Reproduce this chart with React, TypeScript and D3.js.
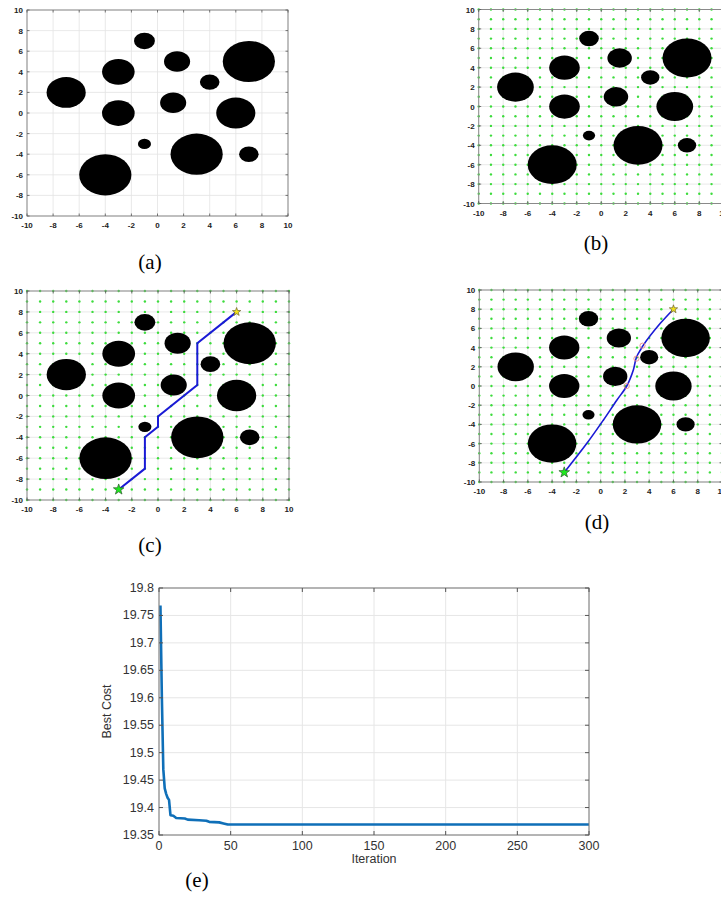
import * as d3 from 'd3';

// obstacle centres and radii (shared by panels a-d)
const obsX = [-1, 1.5, 7, -3, 4, -7, 1.2, -3, 6, -1, 3, 7, -4];
const obsY = [7, 5, 5, 4, 3, 2, 1, 0, 0, -3, -4, -4, -6];
const obsR = [0.8, 1, 2, 1.25, 0.75, 1.5, 1, 1.25, 1.5, 0.5, 2, 0.75, 2];

const mapTicks = [-10, -8, -6, -4, -2, 0, 2, 4, 6, 8, 10];
const gridNodes = d3.range(-10, 11);

const startPt = [-3, -9];
const goalPt = [6, 8];

// panel (c) grid path
const gridPathX = [-3, -1, -1, 0, 0, 3, 3, 6];
const gridPathY = [-9, -7, -4, -3, -2, 1, 5, 8];

// panel (d) smoothed path + waypoints
const smoothPathX = [-3, -1.15, 0.22, 1.33, 2.15, 2.7, 2.95, 3.3, 3.52, 4.9, 6];
const smoothPathY = [-9, -6.0, -3.56, -1.48, 0, 1.7, 3.0, 3.8, 4.26, 6.5, 8];
const wayX = [2.15, 2.95, 3.45];
const wayY = [0, 2.85, 4.2];

// panel (e) convergence
const iterations = [1, 2, 3, 4, 5, 6, 7, 8, 10, 12, 18, 20, 28, 33, 35, 42, 45, 48, 300];
const bestCost = [19.768, 19.6, 19.47, 19.435, 19.425, 19.418, 19.414, 19.386, 19.385, 19.381,
  19.38, 19.378, 19.377, 19.376, 19.374, 19.373, 19.371, 19.369, 19.369];
const costTicks = [19.35, 19.4, 19.45, 19.5, 19.55, 19.6, 19.65, 19.7, 19.75, 19.8];
const iterTicks = [0, 50, 100, 150, 200, 250, 300];

const sans = '"Liberation Sans", Arial, sans-serif';
const serif = '"Liberation Serif", "Times New Roman", serif';

function starPath(R: number) {
  const pts: string[] = [];
  for (let i = 0; i < 10; i++) {
    const r = i % 2 === 0 ? R : R * 0.4;
    const a = -Math.PI / 2 + (i * Math.PI) / 5;
    pts.push(`${(r * Math.cos(a)).toFixed(2)},${(r * Math.sin(a)).toFixed(2)}`);
  }
  return 'M' + pts.join('L') + 'Z';
}

type MapProps = {
  left: number; right: number; top: number; bottom: number;
  dots?: boolean; mode?: 'none' | 'grid' | 'smooth'; label: string; lx: number; ly: number;
};

function MapPanel({ left, right, top, bottom, dots, mode = 'none', label, lx, ly }: MapProps) {
  const x = d3.scaleLinear().domain([-10, 10]).range([left, right]);
  const y = d3.scaleLinear().domain([-10, 10]).range([bottom, top]);
  const tl = 2.5;
  let pathD = '';
  if (mode === 'grid') {
    pathD = d3.line<number>().x(i => x(gridPathX[i])).y(i => y(gridPathY[i]))(d3.range(gridPathX.length)) || '';
  } else if (mode === 'smooth') {
    pathD = d3.line<number>().x(i => x(smoothPathX[i])).y(i => y(smoothPathY[i]))
      .curve(d3.curveCatmullRom.alpha(0.5))(d3.range(smoothPathX.length)) || '';
  }
  return (
    <g>
      <rect x={left} y={top} width={right - left} height={bottom - top} fill="#fff" />
      {mapTicks.map(t => (
        <g key={'g' + t}>
          <line x1={x(t)} x2={x(t)} y1={top} y2={bottom} stroke="#e3e3e3" strokeWidth={0.8} />
          <line x1={left} x2={right} y1={y(t)} y2={y(t)} stroke="#e3e3e3" strokeWidth={0.8} />
        </g>
      ))}
      {dots && gridNodes.map(gx => gridNodes.map(gy => (
        <circle key={gx + '_' + gy} cx={x(gx)} cy={y(gy)} r={1.2} fill="#3ddc3d" />
      )))}
      {obsX.map((cx, i) => (
        <ellipse key={'o' + i} cx={x(cx)} cy={y(obsY[i])}
          rx={x(obsR[i]) - x(0)} ry={y(0) - y(obsR[i])} fill="#000" />
      ))}
      {mode !== 'none' && (
        <g>
          <path d={pathD} fill="none" stroke="#1a1ad6" strokeWidth={mode === 'grid' ? 2 : 1.6} />
          {mode === 'smooth' && wayX.map((wx, i) => (
            <circle key={'w' + i} cx={x(wx)} cy={y(wayY[i])} r={2.6} fill="none" stroke="#e98a8a" strokeWidth={0.9} />
          ))}
          <path d={starPath(5.6)} transform={`translate(${x(startPt[0])},${y(startPt[1])})`}
            fill="#1ee81e" stroke="#2c5a2c" strokeWidth={0.7} />
          <path d={starPath(4.4)} transform={`translate(${x(goalPt[0])},${y(goalPt[1])})`}
            fill="#f2e21a" stroke="#6b6330" strokeWidth={0.7} />
        </g>
      )}
      <rect x={left} y={top} width={right - left} height={bottom - top} fill="none" stroke="#8a8a8a" strokeWidth={1} />
      {mapTicks.map(t => (
        <g key={'t' + t} stroke="#555" strokeWidth={0.8}>
          <line x1={x(t)} x2={x(t)} y1={bottom} y2={bottom - tl} />
          <line x1={x(t)} x2={x(t)} y1={top} y2={top + tl} />
          <line x1={left} x2={left + tl} y1={y(t)} y2={y(t)} />
          <line x1={right} x2={right - tl} y1={y(t)} y2={y(t)} />
        </g>
      ))}
      {mapTicks.map(t => (
        <text key={'xl' + t} x={x(t)} y={bottom + 12} textAnchor="middle" fontFamily={sans}
          fontSize={8} fontWeight="bold" fill="#222">{t}</text>
      ))}
      {mapTicks.map(t => (
        <text key={'yl' + t} x={left - 4} y={y(t) + 3} textAnchor="end" fontFamily={sans}
          fontSize={8} fontWeight="bold" fill="#222">{t}</text>
      ))}
      <text x={lx} y={ly} textAnchor="middle" fontFamily={serif} fontSize={21} fill="#000">{label}</text>
    </g>
  );
}

function CostPanel() {
  const left = 159, right = 589, top = 588, bottom = 835;
  const x = d3.scaleLinear().domain([0, 300]).range([left, right]);
  const y = d3.scaleLinear().domain([19.35, 19.8]).range([bottom, top]);
  const d = d3.line<number>().x(i => x(iterations[i])).y(i => y(bestCost[i]))(d3.range(iterations.length)) || '';
  const tl = 4;
  return (
    <g>
      {iterTicks.map(t => (
        <line key={'gx' + t} x1={x(t)} x2={x(t)} y1={top} y2={bottom} stroke="#e6e6e6" strokeWidth={1} />
      ))}
      {costTicks.map(t => (
        <line key={'gy' + t} x1={left} x2={right} y1={y(t)} y2={y(t)} stroke="#e6e6e6" strokeWidth={1} />
      ))}
      <path d={d} fill="none" stroke="#0f6fb8" strokeWidth={2.6} strokeLinejoin="round" />
      <rect x={left} y={top} width={right - left} height={bottom - top} fill="none" stroke="#777" strokeWidth={1} />
      {iterTicks.map(t => (
        <g key={'tx' + t} stroke="#555">
          <line x1={x(t)} x2={x(t)} y1={bottom} y2={bottom - tl} />
          <line x1={x(t)} x2={x(t)} y1={top} y2={top + tl} />
        </g>
      ))}
      {costTicks.map(t => (
        <g key={'ty' + t} stroke="#555">
          <line x1={left} x2={left + tl} y1={y(t)} y2={y(t)} />
          <line x1={right} x2={right - tl} y1={y(t)} y2={y(t)} />
        </g>
      ))}
      {iterTicks.map(t => (
        <text key={'xl' + t} x={x(t)} y={bottom + 15} textAnchor="middle" fontFamily={sans}
          fontSize={12.5} fill="#333">{t}</text>
      ))}
      {costTicks.map(t => (
        <text key={'yl' + t} x={left - 5} y={y(t) + 4} textAnchor="end" fontFamily={sans}
          fontSize={12.5} fill="#333">{+t.toFixed(2)}</text>
      ))}
      <text x={(left + right) / 2} y={863} textAnchor="middle" fontFamily={sans} fontSize={12.5} fill="#333">Iteration</text>
      <text transform={`translate(111,${(top + bottom) / 2}) rotate(-90)`} textAnchor="middle"
        fontFamily={sans} fontSize={12.5} fill="#333">Best Cost</text>
      <text x={197} y={887} textAnchor="middle" fontFamily={serif} fontSize={21} fill="#000">(e)</text>
    </g>
  );
}

export default function App() {
  return (
    <svg width={721} height={898} style={{ position: 'absolute', left: 0, top: 0, background: '#fff' }}>
      <rect width={721} height={898} fill="#fff" />
      <MapPanel left={27} right={288} top={10} bottom={216} label="(a)" lx={150} ly={269} />
      <MapPanel left={478.7} right={723.8} top={9.5} bottom={203.5} dots label="(b)" lx={596} ly={250} />
      <MapPanel left={27} right={289} top={291} bottom={500} dots mode="grid" label="(c)" lx={150} ly={552} />
      <MapPanel left={479.3} right={722} top={290} bottom={482} dots mode="smooth" label="(d)" lx={597} ly={529} />
      <CostPanel />
    </svg>
  );
}
